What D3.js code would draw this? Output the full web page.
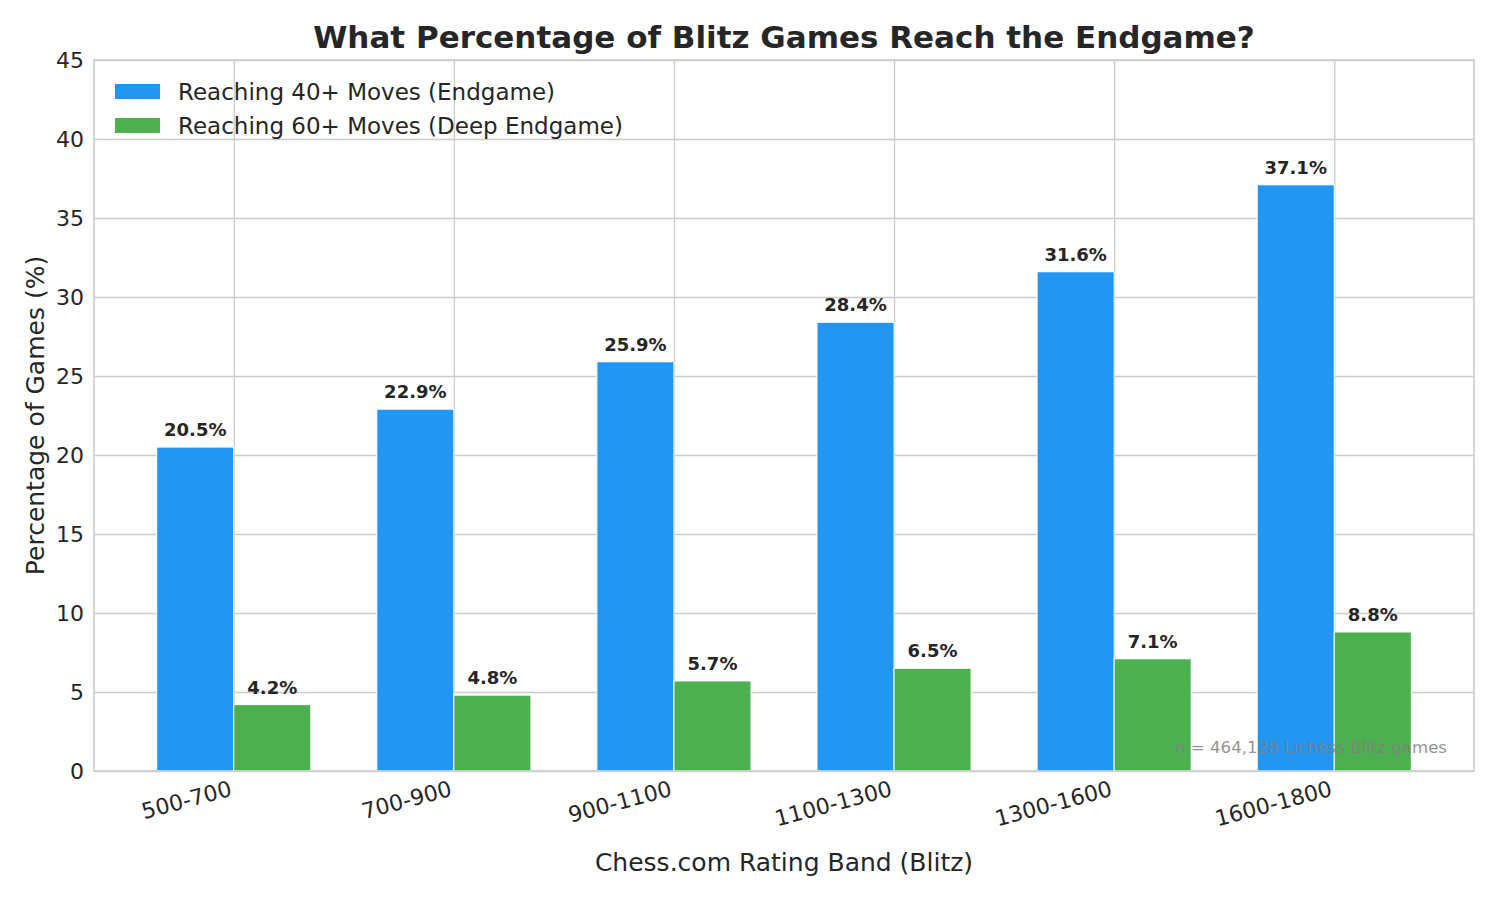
<!DOCTYPE html>
<html>
<head>
<meta charset="utf-8">
<script src="https://cdn.jsdelivr.net/npm/d3@7"></script>
<style>
  html, body { margin: 0; padding: 0; background: #fff; }
  svg { display: block; font-family: "DejaVu Sans", sans-serif; }
</style>
</head>
<body>
<svg id="chart" width="1500" height="900"></svg>
<script>
const categories = ["500-700", "700-900", "900-1100", "1100-1300", "1300-1600", "1600-1800"];
const endgame40 = [20.5, 22.9, 25.9, 28.4, 31.6, 37.1];
const endgame60 = [4.2, 4.8, 5.7, 6.5, 7.1, 8.8];
const seriesNames = ["Reaching 40+ Moves (Endgame)", "Reaching 60+ Moves (Deep Endgame)"];
const seriesColors = ["#2196F3", "#4CAF50"];
const yTicks = [0, 5, 10, 15, 20, 25, 30, 35, 40, 45];
const titleText = "What Percentage of Blitz Games Reach the Endgame?";
const xLabel = "Chess.com Rating Band (Blitz)";
const yLabel = "Percentage of Games (%)";
const noteText = "n = 464,128 Lichess Blitz games";

(function () {
const svg = d3.select("#chart");
const pL = 94, pR = 1474, pT = 60, pB = 771;
const textColor = "#262626";
const gridColor = "#cccccc";

const x = d3.scalePoint().domain(categories).range([pL, pR]).padding(0.635);
const y = d3.scaleLinear().domain([0, 45]).range([pB, pT]);
const barW = x.step() * 0.35;

// grid
const gy = svg.append("g").attr("transform", `translate(${pL},0)`)
  .call(d3.axisLeft(y).tickValues(yTicks).tickSize(-(pR - pL)).tickPadding(10).tickFormat(d3.format("d")));
gy.select(".domain").remove();
gy.selectAll(".tick line").attr("stroke", gridColor).attr("stroke-width", 1.3);
gy.selectAll(".tick text").attr("fill", textColor).style("font-size", "22px").style("font-family", "DejaVu Sans");

const gx = svg.append("g").attr("transform", `translate(0,${pB})`)
  .call(d3.axisBottom(x).tickSize(-(pB - pT)).tickFormat(""));
gx.select(".domain").remove();
gx.selectAll(".tick line").attr("stroke", gridColor).attr("stroke-width", 1.3);

// x tick labels rotated
svg.append("g").selectAll("text").data(categories).join("text")
  .attr("transform", d => `translate(${x(d) - 5},${pB + 9}) rotate(-15)`)
  .attr("text-anchor", "end")
  .attr("dominant-baseline", "hanging")
  .attr("fill", textColor)
  .style("font-size", "22px")
  .text(d => d);

// bars
const series = [endgame40, endgame60];
series.forEach((vals, si) => {
  const offset = si === 0 ? -barW : 0;
  svg.append("g").selectAll("rect").data(vals).join("rect")
    .attr("x", (d, i) => x(categories[i]) + offset)
    .attr("y", d => y(d))
    .attr("width", barW)
    .attr("height", d => y(0) - y(d))
    .attr("fill", seriesColors[si])
    .attr("stroke", "#ffffff")
    .attr("stroke-width", 1);
  svg.append("g").selectAll("text").data(vals).join("text")
    .attr("x", (d, i) => x(categories[i]) + offset + barW / 2)
    .attr("y", d => y(d) - 11)
    .attr("text-anchor", "middle")
    .attr("fill", textColor)
    .style("font-size", "18px")
    .style("font-weight", "bold")
    .text(d => d.toFixed(1) + "%");
});

// axes frame
svg.append("rect").attr("x", pL).attr("y", pT).attr("width", pR - pL).attr("height", pB - pT)
  .attr("fill", "none").attr("stroke", gridColor).attr("stroke-width", 1.6);

// note
svg.append("text").attr("x", pR - 27).attr("y", 753)
  .attr("text-anchor", "end").attr("fill", "#808080").attr("fill-opacity", 0.85)
  .style("font-size", "16.6px").text(noteText);

// legend
const leg = svg.append("g");
seriesNames.forEach((n, i) => {
  leg.append("rect").attr("x", 115).attr("y", 84 + i * 34).attr("width", 45).attr("height", 15).attr("fill", seriesColors[i]);
  leg.append("text").attr("x", 178).attr("y", 92 + i * 34).attr("dominant-baseline", "central")
    .attr("fill", textColor).style("font-size", "23px").text(n);
});

// title & labels
svg.append("text").attr("x", (pL + pR) / 2).attr("y", 48).attr("text-anchor", "middle")
  .attr("fill", textColor).style("font-size", "31px").style("font-weight", "bold").text(titleText);
svg.append("text").attr("x", (pL + pR) / 2).attr("y", 871).attr("text-anchor", "middle")
  .attr("fill", textColor).style("font-size", "25px").text(xLabel);
svg.append("text").attr("transform", `translate(43.5,${(pT + pB) / 2}) rotate(-90)`).attr("text-anchor", "middle")
  .attr("fill", textColor).style("font-size", "25px").text(yLabel);
})();
</script>
</body>
</html>
